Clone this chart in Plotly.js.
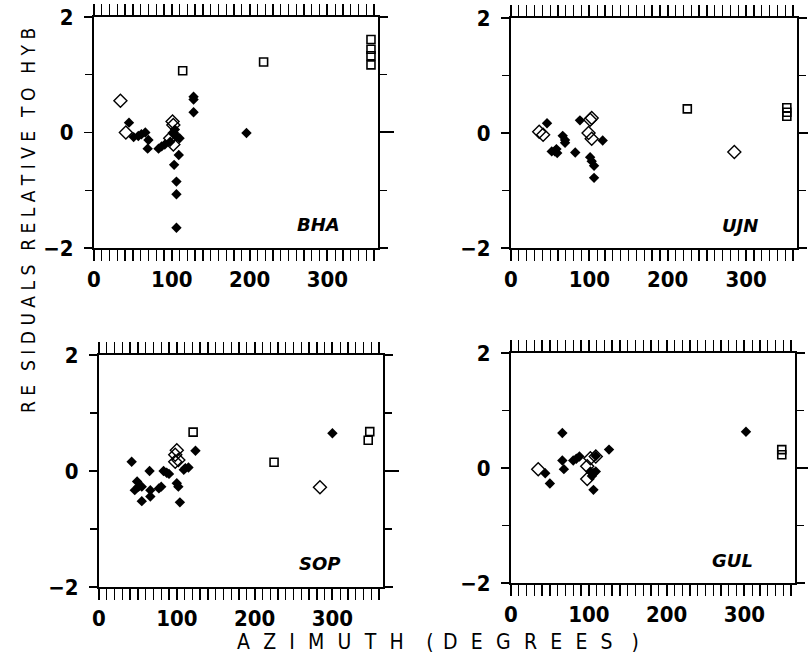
<!DOCTYPE html>
<html><head><meta charset="utf-8">
<script src="https://cdn.plot.ly/plotly-3.0.1.min.js"></script>
<style>html,body{margin:0;padding:0;background:#fff}#plot{width:808px;height:671px}</style>
</head><body><div id="plot"></div>
<script>
// ---- Data (azimuth in degrees, residual relative to HYB) ----
const stations = ["BHA", "UJN", "SOP", "GUL"];

const bhaFilledAz  = [45, 51, 57, 61, 66, 70, 69, 83, 87, 91, 98, 103, 106, 110, 103, 109, 106, 106, 106, 128, 128, 128, 196, 104, 101];
const bhaFilledRes = [0.17, -0.08, -0.06, -0.03, 0.0, -0.13, -0.28, -0.28, -0.24, -0.21, -0.16, -0.01, -0.07, -0.10, -0.56, -0.39, -0.85, -1.07, -1.65, 0.62, 0.57, 0.35, -0.01, 0.05, -0.01];
const bhaOpenDAz   = [34, 41, 101, 102, 98, 102];
const bhaOpenDRes  = [0.55, 0.0, 0.19, 0.13, -0.10, -0.21];
const bhaSquareAz  = [114, 218, 356, 356, 356, 356];
const bhaSquareRes = [1.07, 1.22, 1.61, 1.44, 1.33, 1.17];

const ujnFilledAz  = [46, 52, 56, 59, 58, 66, 69, 69, 82, 88, 101, 103, 106, 106, 117];
const ujnFilledRes = [0.17, -0.32, -0.32, -0.35, -0.28, -0.05, -0.17, -0.12, -0.34, 0.22, -0.42, -0.49, -0.57, -0.78, -0.13];
const ujnOpenDAz   = [36, 41, 103, 101, 99, 103, 285];
const ujnOpenDRes  = [0.02, -0.03, 0.26, 0.23, 0.0, -0.10, -0.33];
const ujnSquareAz  = [225, 352, 352, 352];
const ujnSquareRes = [0.42, 0.44, 0.36, 0.29];

const sopFilledAz  = [42, 49, 46, 51, 55, 55, 65, 66, 66, 77, 80, 83, 87, 90, 100, 102, 104, 109, 111, 115, 124, 300];
const sopFilledRes = [0.16, -0.18, -0.33, -0.27, -0.27, -0.52, 0.0, -0.33, -0.44, -0.30, -0.27, 0.0, -0.03, -0.05, -0.21, -0.27, -0.54, 0.02, 0.05, 0.06, 0.35, 0.65];
const sopOpenDAz   = [100, 98, 98, 102, 284];
const sopOpenDRes  = [0.36, 0.28, 0.16, 0.19, -0.28];
const sopSquareAz  = [121, 225, 348, 346];
const sopSquareRes = [0.67, 0.15, 0.68, 0.53];

const gulFilledAz  = [44, 50, 66, 66, 68, 80, 84, 88, 102, 106, 109, 104, 106, 126, 302, 109];
const gulFilledRes = [-0.09, -0.27, 0.61, 0.13, -0.02, 0.13, 0.16, 0.20, -0.06, -0.09, -0.06, -0.14, -0.38, 0.32, 0.63, 0.21];
const gulOpenDAz   = [35, 102, 98, 98, 109];
const gulOpenDRes  = [-0.02, 0.17, 0.03, -0.19, 0.20];
const gulSquareAz  = [348, 348];
const gulSquareRes = [0.32, 0.23];

const xTickVals = [0, 100, 200, 300];
const yTickVals = [-2, 0, 2];
const yTitleWords = ["RE", "SIDUALS", "RELATIVE", "TO", "HYB"];

// ---- Build ----
const spaced = (w, sep) => w.split("").join(sep);
const LS = "\u2002\u2009";
const xTitle = spaced("AZIMUTH", LS) + "\u2003\u2009" + "(" + "\u2002" + spaced("DEGREES", LS) + "\u2003" + ")";
const yTitle = yTitleWords.map(w => spaced(w, " ")).join("\u2002 ");

const sets = [
  [bhaFilledAz, bhaFilledRes, bhaOpenDAz, bhaOpenDRes, bhaSquareAz, bhaSquareRes],
  [ujnFilledAz, ujnFilledRes, ujnOpenDAz, ujnOpenDRes, ujnSquareAz, ujnSquareRes],
  [sopFilledAz, sopFilledRes, sopOpenDAz, sopOpenDRes, sopSquareAz, sopSquareRes],
  [gulFilledAz, gulFilledRes, gulOpenDAz, gulOpenDRes, gulSquareAz, gulSquareRes]
];
const domains = [
  {x: [0.1163, 0.4678], y: [0.6304, 0.9747]},
  {x: [0.6324, 0.9864], y: [0.6304, 0.9732]},
  {x: [0.1225, 0.4740], y: [0.1252, 0.4709]},
  {x: [0.6324, 0.9839], y: [0.1311, 0.4739]}
];
const tickFont = {family: "DejaVu Sans Condensed, sans-serif", size: 22, color: "#000", weight: "bold"};

const traces = [];
const layout = {
  width: 808, height: 671,
  margin: {l: 0, r: 0, t: 0, b: 0},
  paper_bgcolor: "#fff", plot_bgcolor: "#fff",
  showlegend: false,
  annotations: []
};

sets.forEach((s, i) => {
  const n = i === 0 ? "" : String(i + 1);
  const xa = "x" + n, ya = "y" + n;
  traces.push({x: s[4], y: s[5], xaxis: xa, yaxis: ya, type: "scatter", mode: "markers",
    marker: {symbol: "square-open", size: 8, color: "#000", line: {width: 1.6, color: "#000"}}});
  traces.push({x: s[2], y: s[3], xaxis: xa, yaxis: ya, type: "scatter", mode: "markers",
    marker: {symbol: "diamond-open", size: 10, color: "#000", line: {width: 1.4, color: "#000"}}});
  traces.push({x: s[0], y: s[1], xaxis: xa, yaxis: ya, type: "scatter", mode: "markers",
    marker: {symbol: "diamond", size: 8, color: "#000", line: {width: 0}}});

  layout["xaxis" + n] = {
    domain: domains[i].x, anchor: ya, range: [0, 365],
    showline: true, linecolor: "#000", linewidth: 2, mirror: "allticks",
    ticks: "outside", ticklen: 11, tickwidth: 2, tickcolor: "#000",
    tickvals: xTickVals, ticktext: xTickVals.map(String),
    minor: {dtick: 10, tick0: 0, ticks: "outside", ticklen: 8, tickwidth: 1.3, tickcolor: "#000", showgrid: false},
    showgrid: false, zeroline: false, tickfont: tickFont, fixedrange: true
  };
  layout["yaxis" + n] = {
    domain: domains[i].y, anchor: xa, range: [-2, 2],
    showline: true, linecolor: "#000", linewidth: 2, mirror: "allticks",
    ticks: "outside", ticklen: 8, tickwidth: 1.5, tickcolor: "#000",
    tickvals: yTickVals, ticktext: yTickVals.map(v => v < 0 ? "\u2212" + Math.abs(v) : String(v)),
    minor: {tickvals: [-1, 1], ticks: "outside", ticklen: 7, tickwidth: 1.3, tickcolor: "#000", showgrid: false},
    showgrid: false, zeroline: false, tickfont: tickFont, ticklabelstandoff: 6, fixedrange: true
  };
  // longer zero tick on the right-hand frame
  const on = String(i + 5);
  layout["yaxis" + on] = {
    overlaying: ya, anchor: xa, side: "right", range: [-2, 2],
    tickvals: [0], ticks: "outside", ticklen: 15, tickwidth: 2, tickcolor: "#000",
    showticklabels: false, showline: false, showgrid: false, zeroline: false, fixedrange: true
  };
  traces.push({x: [], y: [], xaxis: xa, yaxis: "y" + on, type: "scatter", mode: "markers", hoverinfo: "skip"});

  const labPos = [[0.79, 0.10], [0.80, 0.096], [0.775, 0.103], [0.78, 0.10]][i];
  layout.annotations.push({
    xref: xa + " domain", yref: ya + " domain", x: labPos[0], y: labPos[1],
    xanchor: "center", yanchor: "middle", showarrow: false,
    text: "<i>" + stations[i] + "</i>",
    font: {family: "DejaVu Sans, sans-serif", size: 18, color: "#000", weight: "bold"}
  });
});

layout.annotations.push({
  xref: "paper", yref: "paper", x: 438 / 808, y: 1 - 642 / 671,
  xanchor: "center", yanchor: "middle", showarrow: false, text: xTitle,
  font: {family: "DejaVu Sans Condensed, sans-serif", size: 21, color: "#000"}
});
layout.annotations.push({
  xref: "paper", yref: "paper", x: 28 / 808, y: 1 - 221 / 671,
  xanchor: "center", yanchor: "middle", showarrow: false, textangle: -90, text: yTitle,
  font: {family: "DejaVu Sans Condensed, sans-serif", size: 19, color: "#000"}
});

Plotly.newPlot("plot", traces, layout, {staticPlot: true, displayModeBar: false});
</script>
</body></html>
